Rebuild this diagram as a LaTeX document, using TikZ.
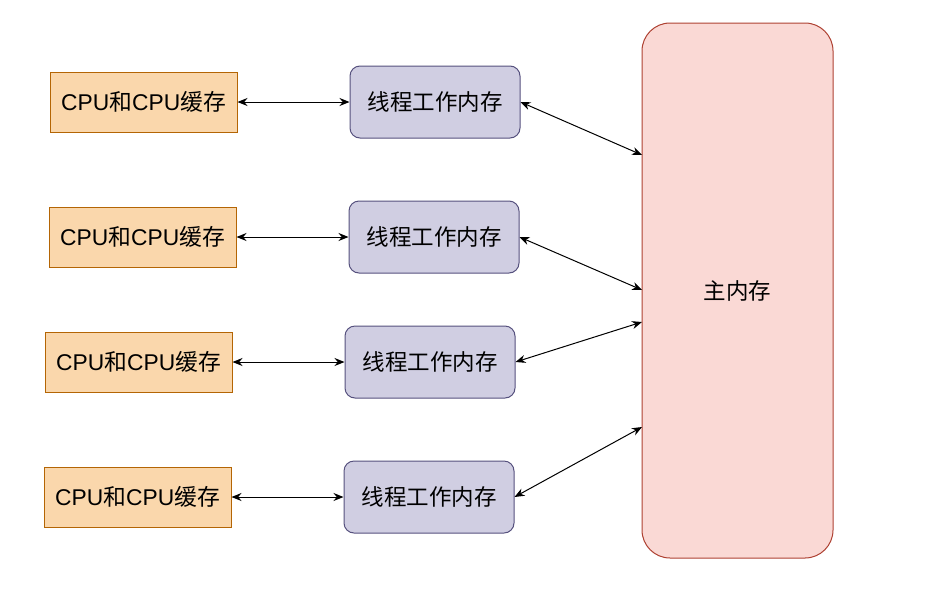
\documentclass[tikz,border=0pt]{standalone}
\usepackage{fontspec}
\setmainfont{Liberation Sans}
\newfontfamily\cjk{Noto Sans CJK SC}
\usetikzlibrary{arrows.meta}
\definecolor{cpufill}{HTML}{FAD7AC}
\definecolor{cpudraw}{HTML}{B46504}
\definecolor{thfill}{HTML}{D0CEE2}
\definecolor{thdraw}{HTML}{56517E}
\definecolor{memfill}{HTML}{FAD9D5}
\definecolor{memdraw}{HTML}{AE4132}
\begin{document}
\begin{tikzpicture}[x=1pt,y=-1pt,
  cpubox/.style={draw=cpudraw,fill=cpufill,line width=1pt,minimum width=187pt,minimum height=60pt,inner sep=0pt,font=\fontsize{22.8}{26}\selectfont},
  thbox/.style={draw=thdraw,fill=thfill,line width=1pt,rounded corners=10pt,minimum width=170pt,minimum height=72pt,inner sep=0pt,font=\fontsize{22.5}{26}\selectfont\cjk},
  membox/.style={draw=memdraw,fill=memfill,line width=1pt,rounded corners=28pt,minimum width=191pt,minimum height=535pt,inner sep=0pt,font=\fontsize{22.5}{26}\selectfont\cjk},
  conn/.style={{Stealth[length=10pt,width=8pt]}-{Stealth[length=10pt,width=8pt]},line width=1pt,black}]
\useasboundingbox (0,0) rectangle (952,611);
\newcommand{\cpulabel}{CPU{\cjk 和}CPU{\cjk 缓存}}
\node[cpubox] (c1) at (143.5,102) {\cpulabel};
\node[cpubox] (c2) at (142.5,237) {\cpulabel};
\node[cpubox] (c3) at (138.5,362) {\cpulabel};
\node[cpubox] (c4) at (137.5,497) {\cpulabel};
\node[thbox] (t1) at (435,102) {线程工作内存};
\node[thbox] (t2) at (434,237) {线程工作内存};
\node[thbox] (t3) at (430,362) {线程工作内存};
\node[thbox] (t4) at (429,497) {线程工作内存};
\node[membox] (m) at (737.5,290.5) {主内存};
\coordinate (m1) at (642,155);
\coordinate (m2) at (642,290);
\coordinate (m3) at (642,322);
\coordinate (m4) at (642,427);
\draw[conn] (c1.east) -- (t1.west);
\draw[conn] (c2.east) -- (t2.west);
\draw[conn] (c3.east) -- (t3.west);
\draw[conn] (c4.east) -- (t4.west);
\draw[conn] (t1.east) -- (m1);
\draw[conn] (t2.east) -- (m2);
\draw[conn] (t3.east) -- (m3);
\draw[conn] (t4.east) -- (m4);
\end{tikzpicture}
\end{document}
